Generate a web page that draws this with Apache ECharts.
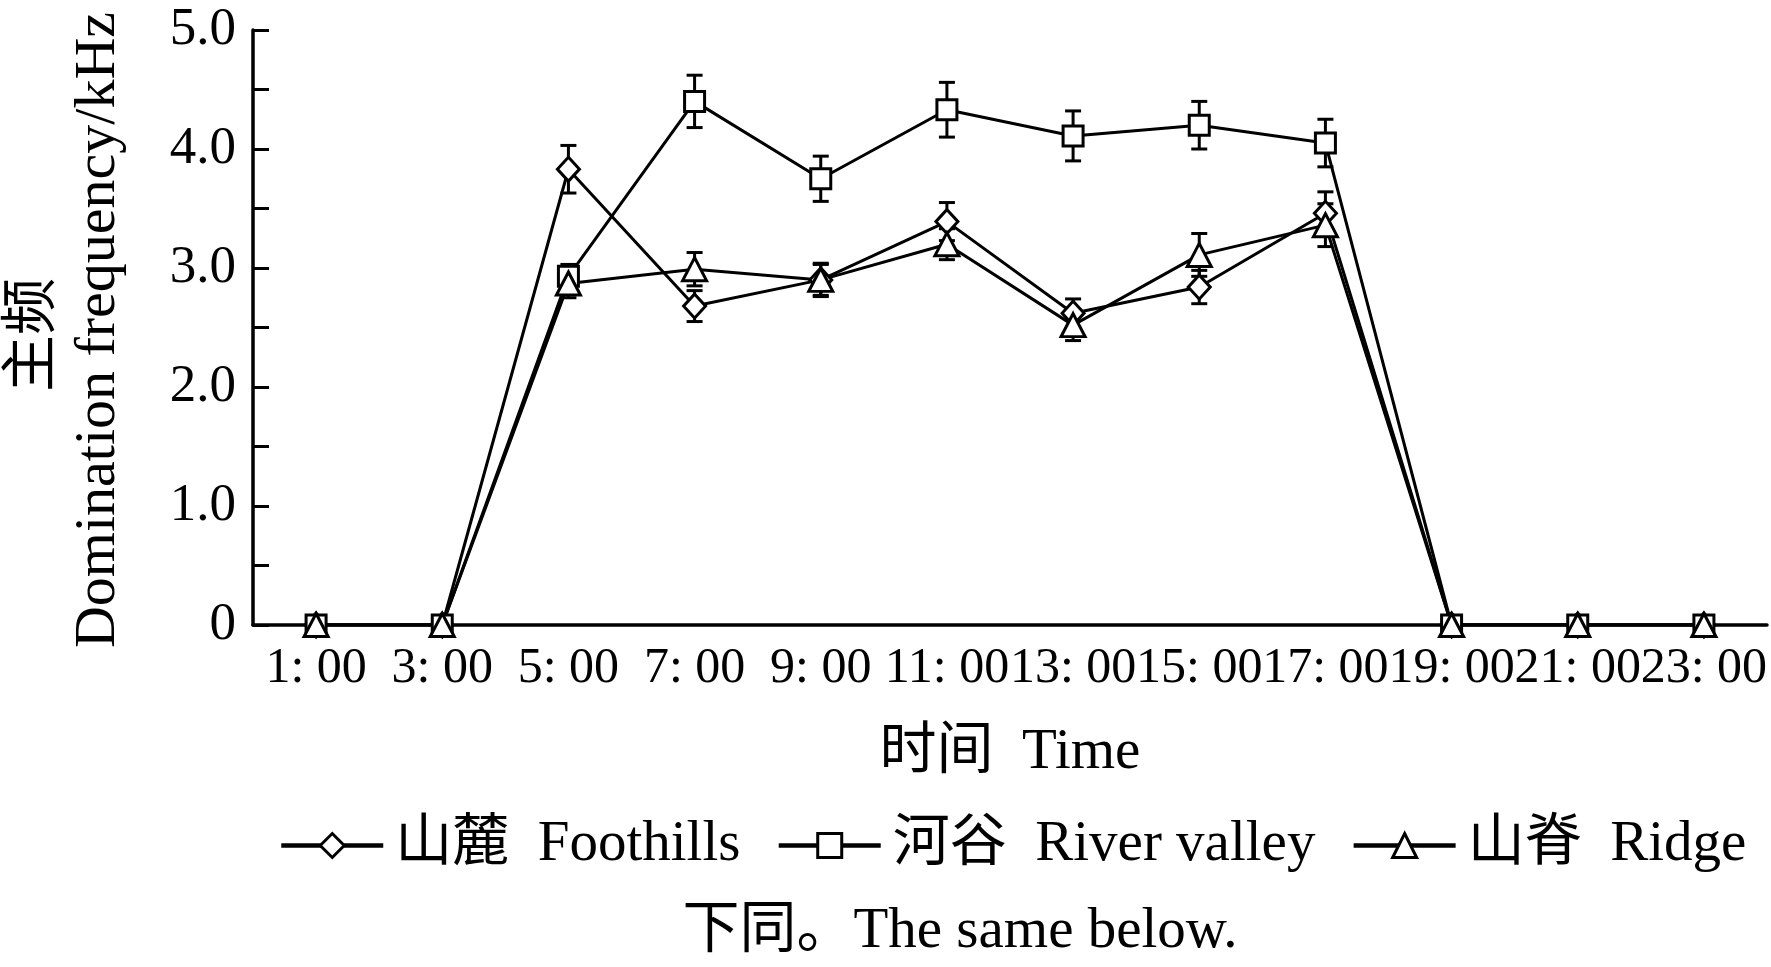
<!DOCTYPE html>
<html>
<head>
<meta charset="utf-8">
<script src="https://cdn.jsdelivr.net/npm/echarts@6/dist/echarts.min.js"></script>
<style>
html,body{margin:0;padding:0;background:#fff;}
#chart{width:1771px;height:967px;}
</style>
</head>
<body>
<div id="chart"></div>
<script>
const times = ['1: 00','3: 00','5: 00','7: 00','9: 00','11: 00','13: 00','15: 00','17: 00','19: 00','21: 00','23: 00'];
const foothills    = [0, 0, 3.83, 2.68, 2.90, 3.39, 2.62, 2.84, 3.46, 0, 0, 0];
const foothillsErr = [0, 0, 0.20, 0.13, 0.13, 0.16, 0.12, 0.14, 0.18, 0, 0, 0];
const river        = [0, 0, 2.93, 4.40, 3.75, 4.33, 4.11, 4.20, 4.05, 0, 0, 0];
const riverErr     = [0, 0, 0.10, 0.22, 0.19, 0.23, 0.21, 0.20, 0.20, 0, 0, 0];
const ridge        = [0, 0, 2.87, 2.99, 2.90, 3.20, 2.52, 3.11, 3.36, 0, 0, 0];
const ridgeErr     = [0, 0, 0.12, 0.14, 0.14, 0.13, 0.13, 0.18, 0.18, 0, 0, 0];
const yTickLabels = {0:'0', 1:'1.0', 2:'2.0', 3:'3.0', 4:'4.0', 5:'5.0'};
const seriesNames = ['山麓  Foothills', '河谷  River valley', '山脊  Ridge'];

const FONT = "'Times New Roman','Liberation Serif','Noto Sans CJK SC',serif";
const chart = echarts.init(document.getElementById('chart'));

function errData(vals, errs){
  const out = [];
  vals.forEach((v,i)=>{ if (errs[i] > 0) out.push([i, v - errs[i], v + errs[i]]); });
  return out;
}
function errSeries(vals, errs){
  return {
    type:'custom', z:1, silent:true,
    data: errData(vals, errs),
    encode:{x:0, y:[1,2]},
    renderItem(params, api){
      const x = api.value(0);
      const hi = api.coord([x, api.value(2)]);
      const lo = api.coord([x, api.value(1)]);
      const hw = 8;
      const st = {stroke:'#000', lineWidth:3};
      return {type:'group', children:[
        {type:'line', shape:{x1:hi[0], y1:hi[1], x2:lo[0], y2:lo[1]}, style:st},
        {type:'line', shape:{x1:hi[0]-hw, y1:hi[1], x2:hi[0]+hw, y2:hi[1]}, style:st},
        {type:'line', shape:{x1:lo[0]-hw, y1:lo[1], x2:lo[0]+hw, y2:lo[1]}, style:st}
      ]};
    }
  };
}
function lineSeries(name, vals, symbol, size){
  return {
    name, type:'line', data: vals, z:3,
    symbol, symbolSize:size, showSymbol:true, showAllSymbol:true,
    lineStyle:{color:'#000', width:3},
    itemStyle:{color:'#fff', borderColor:'#000', borderWidth:3},
    emphasis:{disabled:true}
  };
}

const option = {
  animation:false,
  backgroundColor:'#fff',
  grid:{left:253, right:4, top:30, bottom:342, containLabel:false},
  xAxis:{
    type:'category', data: times, boundaryGap:true,
    name:'时间  Time', nameLocation:'middle', nameGap:100,
    nameTextStyle:{fontFamily:FONT, fontSize:57, color:'#000'},
    axisLine:{lineStyle:{color:'#000', width:3.5}},
    axisTick:{inside:true, length:16, lineStyle:{color:'#000', width:3}},
    axisLabel:{interval:0, fontFamily:FONT, fontSize:50, color:'#000', margin:19}
  },
  yAxis:{
    type:'value', min:0, max:5, interval:0.5,
    axisLine:{show:true, lineStyle:{color:'#000', width:3.5}},
    axisTick:{show:true, inside:true, length:16, lineStyle:{color:'#000', width:3}},
    splitLine:{show:false},
    axisLabel:{fontFamily:FONT, fontSize:53, color:'#000', margin:17,
      formatter:v => { const r = Math.round(v); return Math.abs(v - r) < 1e-9 ? yTickLabels[r] : ''; }}
  },
  legend:{
    data: seriesNames.map(n => ({name:n, lineStyle:{width:4.5}, itemStyle:{borderWidth:3}})),
    left:274, top:812, itemWidth:102, itemHeight:30, itemGap:36,
    lineStyle:{width:4.5},
    textStyle:{fontFamily:FONT, fontSize:57, color:'#000', padding:[0,0,0,7]}
  },
  graphic:[
    {type:'text', x:34, y:335, rotation:Math.PI/2,
      style:{text:'主频', font:"57px " + FONT, fill:'#000', textAlign:'center', textVerticalAlign:'middle'}},
    {type:'text', x:99, y:330, rotation:Math.PI/2,
      style:{text:'Domination frequency/kHz', font:"58px " + FONT, fill:'#000', textAlign:'center', textVerticalAlign:'middle'}},
    {type:'text', x:960, y:932,
      style:{text:'下同。The same below.', font:"57px " + FONT, fill:'#000', textAlign:'center', textVerticalAlign:'middle'}}
  ],
  series:[
    errSeries(foothills, foothillsErr),
    errSeries(river, riverErr),
    errSeries(ridge, ridgeErr),
    lineSeries(seriesNames[0], foothills, 'diamond', [22,24]),
    lineSeries(seriesNames[1], river, 'rect', [20,20]),
    lineSeries(seriesNames[2], ridge, 'triangle', [24,23])
  ]
};
chart.setOption(option);
</script>
</body>
</html>
